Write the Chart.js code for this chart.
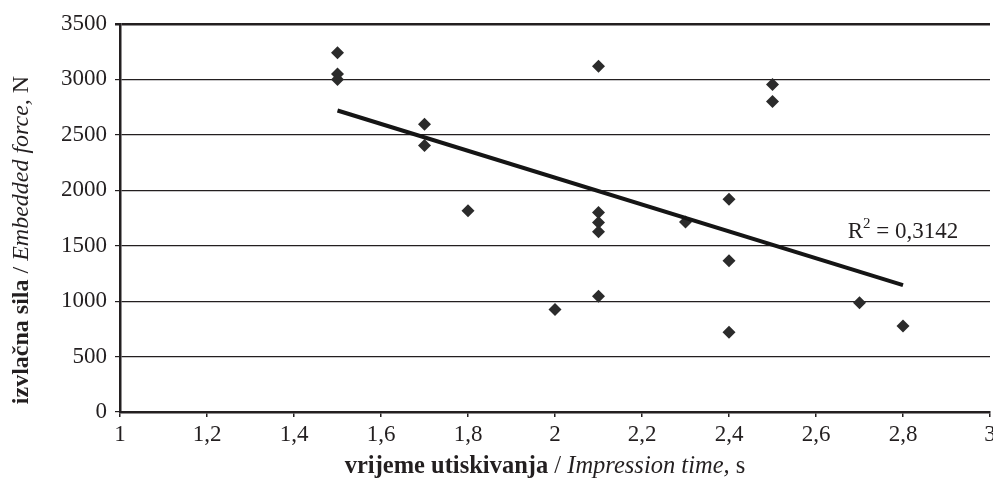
<!DOCTYPE html>
<html>
<head>
<meta charset="utf-8">
<script src="https://cdn.jsdelivr.net/npm/chart.js@4"></script>
<style>
  html, body { margin: 0; padding: 0; background: #fff; }
  #wrap { width: 993px; height: 479px; }
</style>
</head>
<body>
<div id="wrap"><canvas id="chart"></canvas></div>
<script>
// Measured points: impression time (s) vs embedded force (N)
const timeValues  = [1.5, 1.5, 1.5, 1.7, 1.7, 1.8, 2.0, 2.1, 2.1, 2.1, 2.1, 2.1, 2.3, 2.4, 2.4, 2.4, 2.5, 2.5, 2.7, 2.8];
const forceValues = [3240, 3050, 3000, 2595, 2405, 1815, 925, 3120, 1800, 1710, 1625, 1045, 1715, 1920, 1365, 720, 2955, 2800, 985, 775];

// Linear trend line endpoints
const trendX = [1.5, 2.8];
const trendY = [2720, 1145];
const r2Label = '0,3142';

const xTitle = [['vrijeme utiskivanja', 'bold'], [' / ', 'normal'], ['Impression time,', 'italic'], [' s', 'normal']];
const yTitle = [['izvlačna sila', 'bold'], [' / ', 'normal'], ['Embedded force,', 'italic'], [' N', 'normal']];

const FONT = "'Liberation Serif', 'Times New Roman', serif";
const ink = '#231f20';

const points = timeValues.map((x, i) => ({ x: x, y: forceValues[i] }));
const trend = trendX.map((x, i) => ({ x: x, y: trendY[i] }));

// Draw a line of text made of pieces with different styles, centred on 0
function drawRich(ctx, pieces, size) {
    let total = 0;
    const widths = pieces.map(p => {
        ctx.font = p[1] + ' ' + size + 'px ' + FONT;
        const w = ctx.measureText(p[0]).width;
        total += w;
        return w;
    });
    let x = -total / 2;
    pieces.forEach((p, i) => {
        ctx.font = p[1] + ' ' + size + 'px ' + FONT;
        ctx.fillText(p[0], x, 0);
        x += widths[i];
    });
}

const labelsPlugin = {
    id: 'labels',
    afterDraw(chart) {
        const ctx = chart.ctx;
        ctx.save();
        ctx.fillStyle = ink;
        ctx.textBaseline = 'alphabetic';
        ctx.textAlign = 'left';

        // x axis title
        ctx.save();
        ctx.translate(545, 473);
        drawRich(ctx, xTitle, 24.5);
        ctx.restore();

        // y axis title
        ctx.save();
        ctx.translate(28, 240);
        ctx.rotate(-Math.PI / 2);
        drawRich(ctx, yTitle, 24);
        ctx.restore();

        // R squared
        const xs = chart.scales.x, ys = chart.scales.y;
        let x = xs.getPixelForValue(2.673);
        const y = ys.getPixelForValue(1570);
        ctx.font = '23px ' + FONT;
        ctx.fillText('R', x, y);
        x += ctx.measureText('R').width;
        ctx.font = '15px ' + FONT;
        ctx.fillText('2', x, y - 10);
        x += ctx.measureText('2').width;
        ctx.font = '23px ' + FONT;
        ctx.fillText(' = ' + r2Label, x, y);
        ctx.restore();
    }
};

new Chart(document.getElementById('chart'), {
    type: 'scatter',
    data: {
        datasets: [{
            label: 'points',
            data: points,
            pointStyle: 'rectRot',
            pointRadius: 6.5,
            pointBackgroundColor: '#2b2b2b',
            pointBorderWidth: 0,
            order: 2
        }, {
            label: 'trend',
            data: trend,
            showLine: true,
            borderColor: '#151515',
            borderWidth: 4,
            pointRadius: 0,
            order: 1
        }]
    },
    options: {
        responsive: true,
        maintainAspectRatio: false,
        animation: false,
        layout: {
            autoPadding: false,
            padding: { left: 0, right: 3, top: 24, bottom: 0 }
        },
        plugins: {
            legend: { display: false },
            tooltip: { enabled: false }
        },
        scales: {
            x: {
                type: 'linear',
                min: 1,
                max: 3,
                afterFit(scale) {
                    scale.height = 67;
                    scale.paddingLeft = 0;
                    scale.paddingRight = 0;
                },
                ticks: {
                    stepSize: 0.2,
                    color: ink,
                    font: { family: FONT, size: 23 },
                    padding: 4,
                    maxRotation: 0,
                    callback: v => (Math.round(v * 10) / 10).toString().replace('.', ',')
                },
                grid: {
                    drawOnChartArea: false,
                    drawTicks: true,
                    tickLength: 5,
                    color: ink,
                    lineWidth: 1.5
                },
                border: { color: ink, width: 2.5 }
            },
            y: {
                min: 0,
                max: 3500,
                afterFit(scale) {
                    scale.width = 120;
                    scale.paddingTop = 0;
                    scale.paddingBottom = 0;
                },
                ticks: {
                    stepSize: 500,
                    color: ink,
                    font: { family: FONT, size: 23 },
                    padding: 8,
                    callback: v => String(v)
                },
                grid: {
                    color: ink,
                    lineWidth: c => (c.tick && c.tick.value === 3500 ? 2.5 : 1.2),
                    tickLength: 5
                },
                border: { color: ink, width: 2.5 }
            }
        }
    },
    plugins: [labelsPlugin]
});
</script>
</body>
</html>
